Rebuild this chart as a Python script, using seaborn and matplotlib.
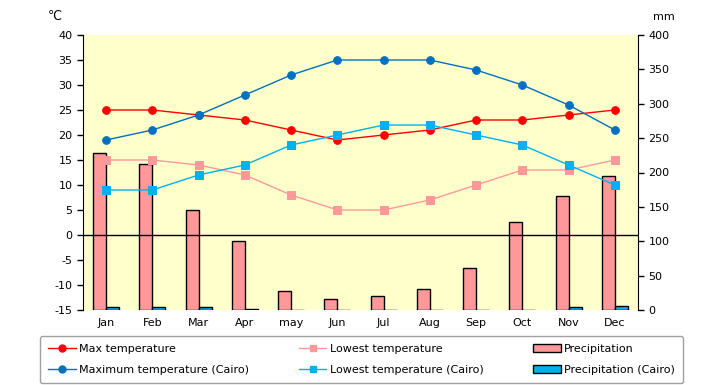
import numpy as np
import pandas as pd
import matplotlib
matplotlib.use("Agg")
import matplotlib.pyplot as plt
from matplotlib.lines import Line2D
from matplotlib.patches import Patch
import seaborn as sns

plt.rcParams['font.family']=['DejaVu Sans','Noto Sans CJK JP']
plt.rcParams['font.size']=8
plt.rcParams['axes.unicode_minus']=False

months=['Jan','Feb','Mar','Apr','may','Jun','Jul','Aug','Sep','Oct','Nov','Dec']
maxTemp=[25,25,24,23,21,19,20,21,23,23,24,25]
lowTemp=[15,15,14,12,8,5,5,7,10,13,13,15]
maxCairo=[19,21,24,28,32,35,35,35,33,30,26,21]
lowCairo=[9,9,12,14,18,20,22,22,20,18,14,10]
precip=[228,212,146,100,27,16,20,31,61,128,166,195]
precipCairo=[5,3.8,4.4,1.1,0.5,0.1,0,0,0,0.7,3.8,5.9]

tempNames=['Max temperature','Lowest temperature','Maximum temperature (Cairo)','Lowest temperature (Cairo)']
tempColors=['#FF0000','#FF9999','#0070C0','#00B0F0']
tempMarkers=['o','s','o','s']
precNames=['Precipitation','Precipitation (Cairo)']
precColors=['#FF9999','#00B0F0']

temp=pd.DataFrame({'month':months*4,
                   'series':np.repeat(tempNames,12),
                   'value':maxTemp+lowTemp+maxCairo+lowCairo})
prec=pd.DataFrame({'month':months*2,
                   'series':np.repeat(precNames,12),
                   'mm':precip+precipCairo})

fig=plt.figure(figsize=[7.2,3.85],dpi=100)
ax=fig.add_axes([83/720,1-310/385,555/720,275/385])
ax2=ax.twinx()

sns.barplot(data=prec,x='month',y='mm',hue='series',hue_order=precNames,
            palette=dict(zip(precNames,precColors)),width=0.56,edgecolor='black',
            linewidth=1,saturation=1,errorbar=None,legend=False,ax=ax2)
sns.pointplot(data=temp,x='month',y='value',hue='series',hue_order=tempNames,
              palette=dict(zip(tempNames,tempColors)),markers=tempMarkers,linestyles='-',
              markersize=5.5,linewidth=1,errorbar=None,legend=False,ax=ax)

ax.set_zorder(ax2.get_zorder()+1)
ax.patch.set_visible(False)
ax2.patch.set_visible(True)
ax2.patch.set_facecolor('#FFFFCC')

ax.axhline(0,color='black',lw=1,zorder=1)
ax.set_xlim(-0.5,11.5)
ax.set_ylim(-15,40)
ax.set_yticks(np.arange(-15,41,5))
ax2.set_ylim(0,400)
ax2.set_yticks(np.arange(0,401,50))
ax.set_xlabel('')
ax.set_ylabel('')
ax2.set_ylabel('')
ax.tick_params(axis='x',length=0,pad=6)
ax.tick_params(axis='y',length=4,width=1,color='black')
ax2.tick_params(axis='y',length=4,width=1,color='black')
for a in (ax,ax2):
    a.spines['top'].set_visible(False)
    a.spines['bottom'].set_visible(False)
ax.spines['right'].set_visible(False)
ax2.spines['left'].set_visible(False)
ax.spines['left'].set_color('black')
ax2.spines['right'].set_color('black')

fig.text(55/720,1-16/385,'℃',ha='center',va='center',fontsize=9)
fig.text(664/720,1-17/385,'mm',ha='center',va='center',fontsize=8)

handles=[]
for n,c,m in zip(tempNames,tempColors,tempMarkers):
    handles.append(Line2D([],[],color=c,marker=m,markersize=5,lw=1,label=n))
for n,c in zip(precNames,precColors):
    handles.append(Patch(facecolor=c,edgecolor='black',lw=1,label=n))
order=[0,2,1,3,4,5]
leg=fig.legend([handles[i] for i in order],[handles[i].get_label() for i in order],
               ncol=3,loc='lower left',bbox_to_anchor=(40/720,2/385,643/720,50/385),
               mode='expand',fancybox=True,edgecolor='#A0A0A0',framealpha=1,
               fontsize=8,handlelength=2.5,handletextpad=0.3,borderaxespad=0,
               labelspacing=1.0,borderpad=0.7)
leg.get_frame().set_linewidth(1)

fig.savefig('out.png',dpi=100)
